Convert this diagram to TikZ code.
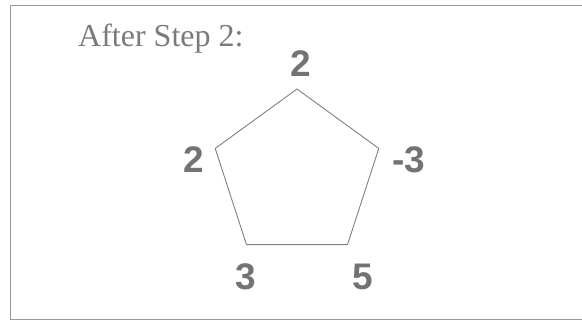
\documentclass[tikz,border=0pt]{standalone}
\usepackage{fontspec}
\setmainfont{Liberation Serif}
\newfontfamily\numfont{Liberation Sans}
\usetikzlibrary{positioning}

\begin{document}
\begin{tikzpicture}
	[%
	x=1pt, y=-1pt,%
	heading/.style={text=black!52,	font=\fontsize{32}{32}\selectfont,	inner sep=0pt,	anchor=base west},%
	vlabel/.style ={text=black!55,	font=\numfont\bfseries\fontsize{37}{37}\selectfont,	inner sep=0pt},%
	side/.style   ={draw=black!50,	line width=0.9pt,	line join=round},%
	border/.style ={draw=black!40,	line width=1pt},%
	]

	\useasboundingbox (0,0) rectangle (582,321);

	\newcommand{\cx}{297}
	\newcommand{\cy}{175}
	\newcommand{\rad}{86}

	% frame
	\coordinate (tr) at (582,5.5);
	\coordinate (tl) at (10.5,5.5);
	\coordinate (bl) at (10.5,319.5);
	\coordinate (br) at (582,319.5);
	\draw [border] (tr) -- (tl) -- (bl) -- (br);

	\node (heading) at (78,46.5) [heading] {After Step 2:};

	% vertices
	\foreach \a [count=\i from 0] in {90,162,234,306,18}%
		\coordinate (v\i) at ({\cx+\rad*cos(\a)},{\cy-\rad*sin(\a)});

	\draw [side] (v0) -- (v1) -- (v2) -- (v3) -- (v4) -- cycle;

	% values at the vertices
	\node (lab0) at ([shift={(4,-25.5)}]v0)	[vlabel] {2};
	\node (lab1) at ([shift={(-21,11.6)}]v1)	[vlabel] {2};
	\node (lab2) at ([shift={(-1,32)}]v2)		[vlabel] {3};
	\node (lab3) at ([shift={(15.5,32)}]v3)	[vlabel] {5};
	\node (lab4) at ([shift={(30,11.6)}]v4)	[vlabel] {-3};

\end{tikzpicture}
\end{document}
